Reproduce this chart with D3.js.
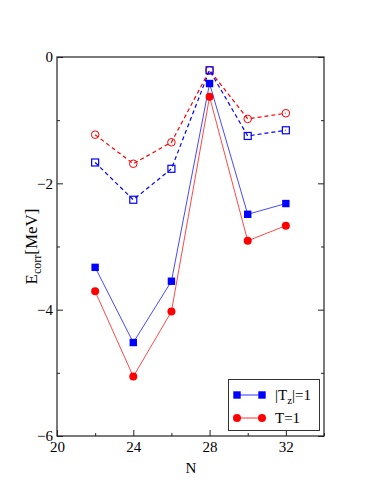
<!DOCTYPE html>
<html>
<head>
<meta charset="utf-8">
<script src="https://cdn.jsdelivr.net/npm/d3@7"></script>
<style>
  body { margin: 0; background: #fff; }
</style>
</head>
<body>
<svg id="chart" width="382" height="494" font-family="Liberation Serif"></svg>
<script>
// N values and correlation energies (MeV)
var nValues = [22, 24, 26, 28, 30, 32];
var tzSolid = [-3.33, -4.52, -3.55, -0.42, -2.49, -2.32];
var tSolid = [-3.71, -5.06, -4.03, -0.63, -2.91, -2.67];
var tzDashed = [-1.67, -2.26, -1.77, -0.21, -1.25, -1.16];
var tDashed = [-1.23, -1.69, -1.35, -0.21, -0.98, -0.89];

var xMajor = [20, 24, 28, 32];
var xMinor = [22, 26, 30, 34];
var yMajor = [-6, -4, -2, 0];
var yMinor = [-5, -3, -1];

var serif = "Liberation Serif";

var margin = { top: 57, right: 58, bottom: 58, left: 57 },
  width = 382 - margin.left - margin.right,
  height = 494 - margin.top - margin.bottom;

var svg = d3.select("#chart");
var g = svg
  .append("g")
  .attr("transform", "translate(" + margin.left + "," + margin.top + ")");

var x = d3.scaleLinear().domain([20, 34]).range([0, width]);
var y = d3.scaleLinear().domain([-6, 0]).range([height, 0]);

function pts(vals) {
  return vals.map(function (v, i) {
    return [nValues[i], v];
  });
}

var line = d3
  .line()
  .x(function (d) {
    return x(d[0]);
  })
  .y(function (d) {
    return y(d[1]);
  });

// dashed series
g.append("path")
  .datum(pts(tDashed))
  .attr("d", line)
  .attr("fill", "none")
  .attr("stroke", "#ff0000")
  .attr("stroke-width", 1.2)
  .attr("stroke-dasharray", "4,3");
g.append("path")
  .datum(pts(tzDashed))
  .attr("d", line)
  .attr("fill", "none")
  .attr("stroke", "#0000ff")
  .attr("stroke-width", 1.2)
  .attr("stroke-dasharray", "4,3");

// solid series
g.append("path")
  .datum(pts(tSolid))
  .attr("d", line)
  .attr("fill", "none")
  .attr("stroke", "#ff3333")
  .attr("stroke-width", 0.9);
g.append("path")
  .datum(pts(tzSolid))
  .attr("d", line)
  .attr("fill", "none")
  .attr("stroke", "#3333ff")
  .attr("stroke-width", 0.9);

// open markers
g.selectAll(".openCircle")
  .data(pts(tDashed))
  .enter()
  .append("circle")
  .attr("cx", function (d) {
    return x(d[0]);
  })
  .attr("cy", function (d) {
    return y(d[1]);
  })
  .attr("r", 3.8)
  .attr("fill", "none")
  .attr("stroke", "#ff0000")
  .attr("stroke-width", 1);
g.selectAll(".openSquare")
  .data(pts(tzDashed))
  .enter()
  .append("rect")
  .attr("x", function (d) {
    return x(d[0]) - 3.5;
  })
  .attr("y", function (d) {
    return y(d[1]) - 3.5;
  })
  .attr("width", 7)
  .attr("height", 7)
  .attr("fill", "none")
  .attr("stroke", "#0000ff")
  .attr("stroke-width", 1.2);

// filled markers
g.selectAll(".fillCircle")
  .data(pts(tSolid))
  .enter()
  .append("circle")
  .attr("cx", function (d) {
    return x(d[0]);
  })
  .attr("cy", function (d) {
    return y(d[1]);
  })
  .attr("r", 4)
  .attr("fill", "#ff0000");
g.selectAll(".fillSquare")
  .data(pts(tzSolid))
  .enter()
  .append("rect")
  .attr("x", function (d) {
    return x(d[0]) - 3.7;
  })
  .attr("y", function (d) {
    return y(d[1]) - 3.7;
  })
  .attr("width", 7.4)
  .attr("height", 7.4)
  .attr("fill", "#0000ff");

// axes: ticks point inward
function styleAxis(sel) {
  sel.attr("font-family", serif).attr("font-size", 15);
  sel.select(".domain").remove();
  sel.selectAll("line").attr("stroke", "#222");
  sel.selectAll("text").attr("fill", "#000");
}

g.append("g")
  .call(d3.axisLeft(y).tickValues(yMajor).tickSize(-6).tickPadding(4).tickFormat(d3.format("d")))
  .call(styleAxis);
g.append("g")
  .call(d3.axisLeft(y).tickValues(yMinor).tickSize(-3).tickFormat(""))
  .call(styleAxis);
g.append("g")
  .attr("transform", "translate(" + width + ",0)")
  .call(d3.axisRight(y).tickValues(yMajor).tickSize(-6).tickFormat(""))
  .call(styleAxis);
g.append("g")
  .attr("transform", "translate(" + width + ",0)")
  .call(d3.axisRight(y).tickValues(yMinor).tickSize(-3).tickFormat(""))
  .call(styleAxis);
g.append("g")
  .attr("transform", "translate(0," + height + ")")
  .call(d3.axisBottom(x).tickValues(xMajor).tickSize(-6).tickPadding(5).tickFormat(d3.format("d")))
  .call(styleAxis);
g.append("g")
  .attr("transform", "translate(0," + height + ")")
  .call(d3.axisBottom(x).tickValues(xMinor).tickSize(-3).tickFormat(""))
  .call(styleAxis);

// frame
g.append("rect")
  .attr("width", width)
  .attr("height", height)
  .attr("fill", "none")
  .attr("stroke", "#222")
  .attr("stroke-width", 1.2);

// axis labels
var yl = svg
  .append("text")
  .attr("transform", "translate(37," + (margin.top + height / 2) + ") rotate(-90)")
  .attr("text-anchor", "middle")
  .attr("font-family", serif)
  .attr("font-size", 17);
yl.append("tspan").text("E");
yl.append("tspan").attr("font-size", 12).attr("dy", 4).text("corr");
yl.append("tspan").attr("dy", -4).text("[MeV]");

svg
  .append("text")
  .attr("x", 191)
  .attr("y", 473)
  .attr("text-anchor", "middle")
  .attr("font-family", serif)
  .attr("font-size", 15)
  .text("N");

// legend
var legend = svg.append("g").attr("font-family", serif);
legend
  .append("rect")
  .attr("x", 228.5)
  .attr("y", 379.5)
  .attr("width", 91)
  .attr("height", 51)
  .attr("fill", "#fff")
  .attr("stroke", "#333")
  .attr("stroke-width", 1);

var legendItems = [
  { label: "|T", sub: "z", rest: "|=1", color: "#0000ff", line: "#3333ff", shape: "square", yy: 395 },
  { label: "T=1", sub: "", rest: "", color: "#ff0000", line: "#ff3333", shape: "circle", yy: 418 },
];
legendItems.forEach(function (it) {
  legend
    .append("line")
    .attr("x1", 237)
    .attr("x2", 262)
    .attr("y1", it.yy)
    .attr("y2", it.yy)
    .attr("stroke", it.line)
    .attr("stroke-width", 1);
  [237, 262].forEach(function (px) {
    if (it.shape == "square") {
      legend
        .append("rect")
        .attr("x", px - 3.7)
        .attr("y", it.yy - 3.7)
        .attr("width", 7.4)
        .attr("height", 7.4)
        .attr("fill", it.color);
    } else {
      legend
        .append("circle")
        .attr("cx", px)
        .attr("cy", it.yy)
        .attr("r", 4)
        .attr("fill", it.color);
    }
  });
  var t = legend
    .append("text")
    .attr("x", 275)
    .attr("y", it.yy + 5)
    .attr("font-size", 15);
  t.append("tspan").text(it.label);
  if (it.sub) {
    t.append("tspan").attr("font-size", 11).attr("dy", 4).text(it.sub);
    t.append("tspan").attr("dy", -4).text(it.rest);
  }
});
</script>
</body>
</html>
